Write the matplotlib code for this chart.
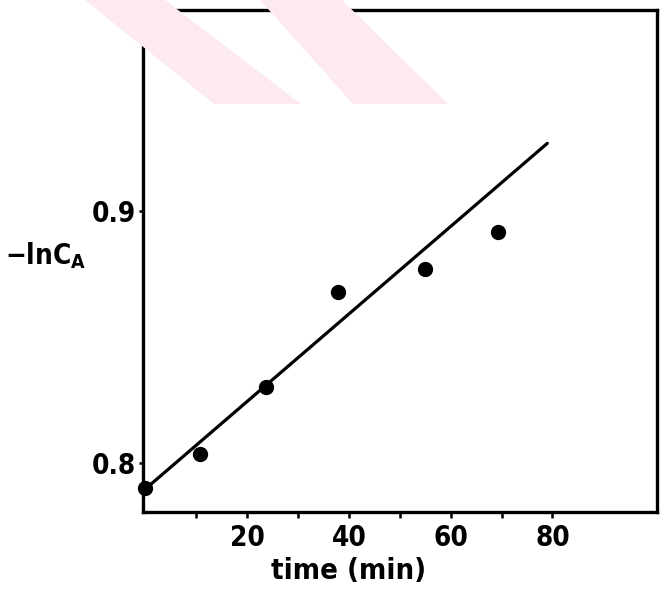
import numpy as np
import matplotlib
matplotlib.use('Agg')
import matplotlib.pyplot as plt
from matplotlib.patches import Polygon

# data
time_min = [0, 10.7, 23.7, 37.9, 54.9, 69.3]
lnCA = [0.790, 0.8036, 0.830, 0.8677, 0.877, 0.8916]
fit_x = [0, 79]
fit_y = [0.7896, 0.927]
xticks = [20, 40, 60, 80]
yticks = [0.8, 0.9]

plt.rcParams['font.family'] = ['DejaVu Sans']
plt.rcParams['font.stretch'] = 'condensed'
plt.rcParams['font.weight'] = 'bold'
plt.rcParams['axes.labelweight'] = 'bold'

fig = plt.figure(figsize=(6.68, 5.93), dpi=100)

# faint pink watermark bands from the scan
W, H = 668, 593
bands = [[(85, 0), (165, 0), (301, 104), (214, 104)],
         [(260, 0), (342, 0), (448, 104), (353, 104)]]
for b in bands:
    pts = [(px / W, 1 - py / H) for px, py in b]
    fig.patches.append(Polygon(pts, closed=True, transform=fig.transFigure,
                               facecolor='#fdeaee', edgecolor='none', zorder=0))

ax = fig.add_axes([0.214, 0.137, 0.769, 0.846])
ax.patch.set_alpha(0)

ax.plot(fit_x, fit_y, color='black', lw=2.3, solid_capstyle='round')
ax.plot(time_min, lnCA, 'o', color='black', ms=10, clip_on=False)

ax.set_xlim(-0.5, 100.5)
ax.set_ylim(0.7805, 0.980)

ax.set_xticks(xticks)
ax.set_xticks([10, 30, 50, 70], minor=True)
ax.set_yticks(yticks)
ax.set_xticklabels([str(t) for t in xticks])
ax.set_yticklabels(['0.8', '0.9'])
ax.tick_params(axis='x', which='major', direction='out', length=4, width=1.8,
               labelsize=20, pad=5)
ax.tick_params(axis='y', which='major', direction='out', length=3, width=1.8,
               labelsize=20, pad=2)
ax.tick_params(axis='x', which='minor', direction='out', length=4, width=1.8)

for s in ax.spines.values():
    s.set_linewidth(2.4)

ax.set_xlabel('time (min)', fontsize=21)
ax.xaxis.set_label_coords(0.40, -0.09)
ax.set_ylabel(r'$-$lnC$_\mathregular{A}$', fontsize=20, rotation=0)
ax.yaxis.set_label_coords(-0.19, 0.48)

fig.savefig('out.png', dpi=100)
